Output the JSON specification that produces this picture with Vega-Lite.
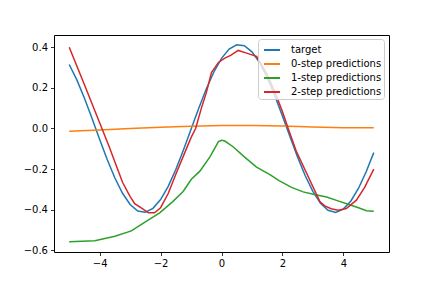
{
  "$schema": "https://vega.github.io/schema/vega-lite/v6.json",
  "width": 335,
  "height": 217,
  "autosize": "none",
  "padding": {"left": 54, "top": 35, "right": 43, "bottom": 36},
  "background": "white",
  "config": {
    "font": "DejaVu Sans",
    "view": {"stroke": "#000000", "strokeWidth": 1},
    "axis": {
      "grid": false,
      "domain": false,
      "tickColor": "#000000",
      "tickSize": 3.5,
      "tickWidth": 0.8,
      "labelFont": "DejaVu Sans",
      "labelFontSize": 10,
      "labelColor": "#000000",
      "labelPadding": 3,
      "title": null
    }
  },
  "data": {
    "values": [
      {"x": -5.0, "y": 0.315, "s": "target"},
      {"x": -4.75, "y": 0.239, "s": "target"},
      {"x": -4.5, "y": 0.149, "s": "target"},
      {"x": -4.25, "y": 0.049, "s": "target"},
      {"x": -4.0, "y": -0.054, "s": "target"},
      {"x": -3.75, "y": -0.154, "s": "target"},
      {"x": -3.5, "y": -0.244, "s": "target"},
      {"x": -3.25, "y": -0.319, "s": "target"},
      {"x": -3.0, "y": -0.374, "s": "target"},
      {"x": -2.75, "y": -0.406, "s": "target"},
      {"x": -2.5, "y": -0.412, "s": "target"},
      {"x": -2.25, "y": -0.393, "s": "target"},
      {"x": -2.0, "y": -0.35, "s": "target"},
      {"x": -1.75, "y": -0.285, "s": "target"},
      {"x": -1.5, "y": -0.202, "s": "target"},
      {"x": -1.25, "y": -0.106, "s": "target"},
      {"x": -1.0, "y": -0.004, "s": "target"},
      {"x": -0.75, "y": 0.098, "s": "target"},
      {"x": -0.5, "y": 0.194, "s": "target"},
      {"x": -0.25, "y": 0.278, "s": "target"},
      {"x": 0.0, "y": 0.345, "s": "target"},
      {"x": 0.25, "y": 0.391, "s": "target"},
      {"x": 0.5, "y": 0.412, "s": "target"},
      {"x": 0.75, "y": 0.407, "s": "target"},
      {"x": 1.0, "y": 0.377, "s": "target"},
      {"x": 1.25, "y": 0.324, "s": "target"},
      {"x": 1.5, "y": 0.25, "s": "target"},
      {"x": 1.75, "y": 0.161, "s": "target"},
      {"x": 2.0, "y": 0.062, "s": "target"},
      {"x": 2.25, "y": -0.041, "s": "target"},
      {"x": 2.5, "y": -0.141, "s": "target"},
      {"x": 2.75, "y": -0.233, "s": "target"},
      {"x": 3.0, "y": -0.31, "s": "target"},
      {"x": 3.25, "y": -0.368, "s": "target"},
      {"x": 3.5, "y": -0.403, "s": "target"},
      {"x": 3.75, "y": -0.413, "s": "target"},
      {"x": 4.0, "y": -0.397, "s": "target"},
      {"x": 4.25, "y": -0.357, "s": "target"},
      {"x": 4.5, "y": -0.294, "s": "target"},
      {"x": 4.75, "y": -0.213, "s": "target"},
      {"x": 5.0, "y": -0.119, "s": "target"},

      {"x": -5.0, "y": -0.014, "s": "0-step predictions"},
      {"x": -4.0, "y": -0.007, "s": "0-step predictions"},
      {"x": -3.0, "y": 0.0, "s": "0-step predictions"},
      {"x": -2.0, "y": 0.006, "s": "0-step predictions"},
      {"x": -1.0, "y": 0.011, "s": "0-step predictions"},
      {"x": 0.0, "y": 0.015, "s": "0-step predictions"},
      {"x": 1.0, "y": 0.014, "s": "0-step predictions"},
      {"x": 2.0, "y": 0.012, "s": "0-step predictions"},
      {"x": 2.5, "y": 0.01, "s": "0-step predictions"},
      {"x": 3.0, "y": 0.007, "s": "0-step predictions"},
      {"x": 4.0, "y": 0.004, "s": "0-step predictions"},
      {"x": 5.0, "y": 0.003, "s": "0-step predictions"},

      {"x": -5.0, "y": -0.558, "s": "1-step predictions"},
      {"x": -4.16, "y": -0.553, "s": "1-step predictions"},
      {"x": -3.5, "y": -0.53, "s": "1-step predictions"},
      {"x": -2.96, "y": -0.504, "s": "1-step predictions"},
      {"x": -2.5, "y": -0.46, "s": "1-step predictions"},
      {"x": -2.03, "y": -0.415, "s": "1-step predictions"},
      {"x": -1.6, "y": -0.36, "s": "1-step predictions"},
      {"x": -1.26, "y": -0.31, "s": "1-step predictions"},
      {"x": -0.99, "y": -0.25, "s": "1-step predictions"},
      {"x": -0.71, "y": -0.21, "s": "1-step predictions"},
      {"x": -0.38, "y": -0.14, "s": "1-step predictions"},
      {"x": -0.1, "y": -0.065, "s": "1-step predictions"},
      {"x": 0.0, "y": -0.058, "s": "1-step predictions"},
      {"x": 0.11, "y": -0.062, "s": "1-step predictions"},
      {"x": 0.38, "y": -0.09, "s": "1-step predictions"},
      {"x": 0.75, "y": -0.14, "s": "1-step predictions"},
      {"x": 1.15, "y": -0.19, "s": "1-step predictions"},
      {"x": 1.59, "y": -0.227, "s": "1-step predictions"},
      {"x": 1.89, "y": -0.257, "s": "1-step predictions"},
      {"x": 2.3, "y": -0.29, "s": "1-step predictions"},
      {"x": 2.68, "y": -0.312, "s": "1-step predictions"},
      {"x": 3.05, "y": -0.325, "s": "1-step predictions"},
      {"x": 3.45, "y": -0.337, "s": "1-step predictions"},
      {"x": 3.8, "y": -0.355, "s": "1-step predictions"},
      {"x": 4.16, "y": -0.373, "s": "1-step predictions"},
      {"x": 4.5, "y": -0.39, "s": "1-step predictions"},
      {"x": 4.76, "y": -0.405, "s": "1-step predictions"},
      {"x": 5.0, "y": -0.408, "s": "1-step predictions"},

      {"x": -5.0, "y": 0.4, "s": "2-step predictions"},
      {"x": -4.5, "y": 0.215, "s": "2-step predictions"},
      {"x": -3.9, "y": -0.01, "s": "2-step predictions"},
      {"x": -3.7, "y": -0.085, "s": "2-step predictions"},
      {"x": -3.5, "y": -0.165, "s": "2-step predictions"},
      {"x": -3.25, "y": -0.265, "s": "2-step predictions"},
      {"x": -3.0, "y": -0.335, "s": "2-step predictions"},
      {"x": -2.85, "y": -0.37, "s": "2-step predictions"},
      {"x": -2.6, "y": -0.395, "s": "2-step predictions"},
      {"x": -2.4, "y": -0.415, "s": "2-step predictions"},
      {"x": -2.2, "y": -0.415, "s": "2-step predictions"},
      {"x": -2.0, "y": -0.39, "s": "2-step predictions"},
      {"x": -1.75, "y": -0.32, "s": "2-step predictions"},
      {"x": -1.5, "y": -0.225, "s": "2-step predictions"},
      {"x": -1.25, "y": -0.135, "s": "2-step predictions"},
      {"x": -1.0, "y": -0.045, "s": "2-step predictions"},
      {"x": -0.85, "y": 0.0, "s": "2-step predictions"},
      {"x": -0.66, "y": 0.1, "s": "2-step predictions"},
      {"x": -0.5, "y": 0.175, "s": "2-step predictions"},
      {"x": -0.33, "y": 0.275, "s": "2-step predictions"},
      {"x": -0.1, "y": 0.325, "s": "2-step predictions"},
      {"x": 0.11, "y": 0.346, "s": "2-step predictions"},
      {"x": 0.3, "y": 0.36, "s": "2-step predictions"},
      {"x": 0.55, "y": 0.384, "s": "2-step predictions"},
      {"x": 0.8, "y": 0.372, "s": "2-step predictions"},
      {"x": 1.15, "y": 0.355, "s": "2-step predictions"},
      {"x": 1.5, "y": 0.266, "s": "2-step predictions"},
      {"x": 1.75, "y": 0.18, "s": "2-step predictions"},
      {"x": 2.0, "y": 0.083, "s": "2-step predictions"},
      {"x": 2.19, "y": 0.0, "s": "2-step predictions"},
      {"x": 2.45, "y": -0.11, "s": "2-step predictions"},
      {"x": 3.23, "y": -0.36, "s": "2-step predictions"},
      {"x": 3.39, "y": -0.381, "s": "2-step predictions"},
      {"x": 3.6, "y": -0.395, "s": "2-step predictions"},
      {"x": 3.83, "y": -0.402, "s": "2-step predictions"},
      {"x": 4.1, "y": -0.394, "s": "2-step predictions"},
      {"x": 4.43, "y": -0.353, "s": "2-step predictions"},
      {"x": 4.7, "y": -0.29, "s": "2-step predictions"},
      {"x": 5.0, "y": -0.2, "s": "2-step predictions"}
    ]
  },
  "mark": {"type": "line", "strokeWidth": 1.5, "clip": true},
  "encoding": {
    "x": {
      "field": "x",
      "type": "quantitative",
      "scale": {"domain": [-5.5, 5.5], "nice": false, "zero": false},
      "axis": {"values": [-4, -2, 0, 2, 4], "format": "d", "labelExpr": "replace(datum.label, '-', '\u2212')"}
    },
    "y": {
      "field": "y",
      "type": "quantitative",
      "scale": {"domain": [-0.608, 0.46], "nice": false, "zero": false},
      "axis": {"values": [-0.6, -0.4, -0.2, 0, 0.2, 0.4], "format": ".1f", "labelExpr": "replace(datum.label, '-', '\u2212')"}
    },
    "color": {
      "field": "s",
      "type": "nominal",
      "sort": ["target", "0-step predictions", "1-step predictions", "2-step predictions"],
      "scale": {
        "domain": ["target", "0-step predictions", "1-step predictions", "2-step predictions"],
        "range": ["#1f77b4", "#ff7f0e", "#2ca02c", "#d62728"]
      },
      "legend": {
        "title": null,
        "orient": "none",
        "legendX": 204,
        "legendY": 4,
        "symbolType": "stroke",
        "symbolSize": 256,
        "symbolStrokeWidth": 2,
        "symbolOffset": 3,
        "rowPadding": -3,
        "labelFontSize": 10,
        "labelFont": "DejaVu Sans",
        "labelColor": "#000000",
        "labelOffset": 10,
        "padding": 2,
        "fillColor": "rgba(255,255,255,0.8)",
        "strokeColor": "#cccccc",
        "cornerRadius": 3
      }
    }
  }
}
